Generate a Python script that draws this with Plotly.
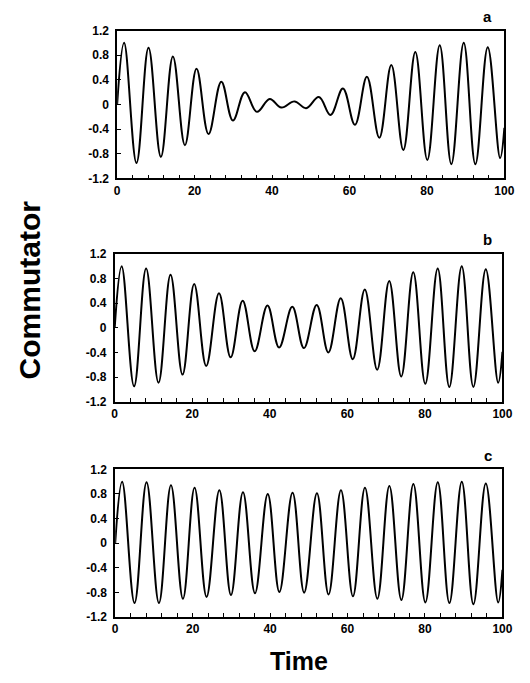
import plotly.graph_objects as go

# Times of start, alternating extrema (peak, trough, ...), and end
times = [0.0,
         1.8, 5.0, 8.1, 11.3, 14.4, 17.5, 20.5, 23.6, 26.9, 29.9, 33.0, 36.1,
         39.4, 42.4, 45.8, 48.8, 52.1, 55.1, 58.3, 61.4, 64.5, 67.7, 70.8, 73.9,
         77.0, 80.1, 83.3, 86.3, 89.5, 92.5, 95.7, 98.9,
         100.0]

series_a = [0.0,
            1.0, -0.95, 0.92, -0.85, 0.78, -0.66, 0.58, -0.48, 0.37, -0.26, 0.20, -0.12,
            0.09, -0.05, 0.05, -0.06, 0.12, -0.17, 0.26, -0.33, 0.45, -0.54, 0.64, -0.74,
            0.85, -0.90, 0.96, -0.97, 1.0, -0.97, 0.93, -0.87,
            -0.38]

series_b = [0.0,
            1.0, -0.95, 0.96, -0.89, 0.86, -0.76, 0.71, -0.62, 0.56, -0.48, 0.44, -0.38,
            0.36, -0.32, 0.34, -0.33, 0.37, -0.40, 0.48, -0.51, 0.62, -0.68, 0.76, -0.79,
            0.90, -0.91, 0.96, -0.96, 1.0, -0.96, 0.95, -0.89,
            -0.39]

series_c = [0.0,
            1.0, -0.97, 0.99, -0.97, 0.94, -0.90, 0.90, -0.87, 0.86, -0.84, 0.83, -0.81,
            0.80, -0.79, 0.82, -0.80, 0.81, -0.83, 0.86, -0.86, 0.90, -0.90, 0.93, -0.92,
            0.96, -0.96, 0.99, -0.97, 1.0, -0.99, 0.97, -0.96,
            -0.43]

panel_labels = ["a", "b", "c"]
x_ticks = [0, 20, 40, 60, 80, 100]
y_ticks = [-1.2, -0.8, -0.4, 0, 0.4, 0.8, 1.2]
y_ticktext = ["-1.2", "-0.8", "-0.4", "0", "0.4", "0.8", "1.2"]

W, H = 530, 683
# pixel boxes (left, right, top, bottom) of each panel
boxes = [(117, 514, 24, 175), (114.5, 512, 252, 403), (115, 512, 472, 623)]
label_pos = [(497, 10), (497, 237), (497, 458)]

fig = go.Figure()
tickfont = dict(family="Liberation Sans, Arial, sans-serif", size=12, color="black", weight="bold")

for i, (ser, box) in enumerate(zip([series_a, series_b, series_c], boxes)):
    n = "" if i == 0 else str(i + 1)
    fig.add_trace(go.Scatter(x=times, y=ser, mode="lines",
                             line=dict(color="black", width=2, shape="spline", smoothing=1.1),
                             xaxis="x" + n, yaxis="y" + n, showlegend=False, hoverinfo="skip"))
    l, r, t, b = box
    xd = [l / W, r / W]
    yd = [(H - b) / H, (H - t) / H]
    fig.update_layout(**{
        "xaxis" + n: dict(domain=xd, range=[0, 100], tickvals=x_ticks, ticks="inside", ticklen=4,
                          tickcolor="black", showline=True, linecolor="black", linewidth=1.5,
                          mirror=True, showgrid=False, zeroline=False, tickfont=tickfont,
                          minor=dict(dtick=4, ticks="inside", ticklen=4, tickcolor="black", showgrid=False),
                          anchor="y" + n, fixedrange=True),
        "yaxis" + n: dict(domain=yd, range=[-1.2, 1.2], tickvals=y_ticks, ticktext=y_ticktext,
                          ticks="inside", ticklen=4, tickcolor="black", showline=True,
                          linecolor="black", linewidth=1.5, mirror=True, showgrid=False,
                          zeroline=False, tickfont=tickfont, anchor="x" + n, fixedrange=True,
                          ticklabelstandoff=4),
    })
    lx, ly = label_pos[i]
    fig.add_annotation(x=lx / W, y=(H - ly) / H, xref="paper", yref="paper", text=panel_labels[i],
                       showarrow=False, xanchor="center", yanchor="middle",
                       font=dict(family="Liberation Sans, Arial, sans-serif", size=15, color="black", weight="bold"))

fig.add_annotation(x=27 / W, y=(H - 289) / H, xref="paper", yref="paper", text="Commutator",
                   textangle=-90, showarrow=False, xanchor="center", yanchor="middle",
                   font=dict(family="Liberation Sans, Arial, sans-serif", size=30, color="black", weight="bold"))
fig.add_annotation(x=303 / W, y=(H - 668) / H, xref="paper", yref="paper", text="Time",
                   showarrow=False, xanchor="center", yanchor="middle",
                   font=dict(family="Liberation Sans, Arial, sans-serif", size=25, color="black", weight="bold"))

fig.update_layout(width=W, height=H, margin=dict(l=0, r=0, t=0, b=0),
                  paper_bgcolor="white", plot_bgcolor="white")
fig.write_html("out.html")
